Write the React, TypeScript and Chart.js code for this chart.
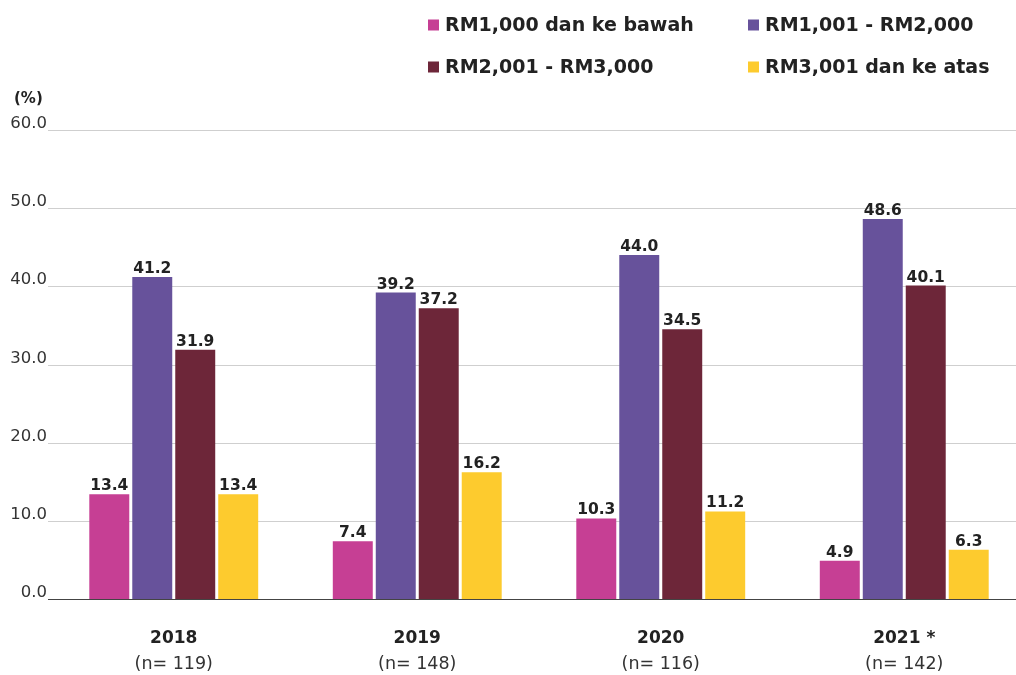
import React, { useEffect, useRef } from "react";
import { Chart, registerables } from "chart.js";

Chart.register(...registerables);

const categories = ["2018", "2019", "2020", "2021 *"];
const sampleSizes = ["(n= 119)", "(n= 148)", "(n= 116)", "(n= 142)"];
const seriesNames = ["RM1,000 dan ke bawah", "RM1,001 - RM2,000", "RM2,001 - RM3,000", "RM3,001 dan ke atas"];
const below1000 = [13.4, 7.4, 10.3, 4.9];
const from1001to2000 = [41.2, 39.2, 44.0, 48.6];
const from2001to3000 = [31.9, 37.2, 34.5, 40.1];
const above3001 = [13.4, 16.2, 11.2, 6.3];
const yTicks = [0, 10, 20, 30, 40, 50, 60];
const colors = ["#C63F94", "#67529B", "#6D2639", "#FDCB2E"];

const FONT = "'DejaVu Sans', sans-serif";
const TEXT = "#222222";

const customDraw = {
  id: "customDraw",
  beforeDatasetsDraw(chart: any) {
    const ctx = chart.ctx;
    const y = chart.scales.y;
    const area = chart.chartArea;
    ctx.save();
    yTicks.forEach((v) => {
      const py = Math.round(y.getPixelForValue(v)) + 0.5;
      ctx.strokeStyle = v === 0 ? "#444444" : "#cfcfcf";
      ctx.lineWidth = v === 0 ? 1.2 : 1;
      ctx.beginPath();
      ctx.moveTo(48, py);
      ctx.lineTo(area.right, py);
      ctx.stroke();
    });
    ctx.restore();
  },
  afterDatasetsDraw(chart: any) {
    const ctx = chart.ctx;
    const y = chart.scales.y;
    const x = chart.scales.x;
    ctx.save();
    // y tick labels
    ctx.fillStyle = "#333333";
    ctx.font = `400 16.5px ${FONT}`;
    ctx.textAlign = "right";
    ctx.textBaseline = "alphabetic";
    yTicks.forEach((v) => {
      const py = y.getPixelForValue(v);
      ctx.fillText(v.toFixed(1), 47, py - 2);
    });
    // unit
    ctx.font = `700 15px ${FONT}`;
    ctx.textAlign = "left";
    ctx.fillStyle = TEXT;
    ctx.fillText("(%)", 14, 103);

    // value labels
    ctx.font = `700 15.5px ${FONT}`;
    ctx.textAlign = "center";
    ctx.textBaseline = "alphabetic";
    ctx.fillStyle = TEXT;
    chart.data.datasets.forEach((ds: any, i: number) => {
      const meta = chart.getDatasetMeta(i);
      meta.data.forEach((el: any, j: number) => {
        ctx.fillText(Number(ds.data[j]).toFixed(1), el.x, el.y - 4);
      });
    });

    // category labels
    categories.forEach((c, i) => {
      const px = x.getPixelForValue(i);
      ctx.font = `700 17px ${FONT}`;
      ctx.fillStyle = TEXT;
      ctx.fillText(c, px, 643);
      ctx.font = `400 17.5px ${FONT}`;
      ctx.fillStyle = "#333333";
      ctx.fillText(sampleSizes[i], px, 669);
    });

    // legend
    const legendPos = [
      [428, 25],
      [748, 25],
      [428, 67],
      [748, 67],
    ];
    ctx.textAlign = "left";
    ctx.textBaseline = "middle";
    ctx.font = `700 19px ${FONT}`;
    chart.data.datasets.forEach((ds: any, i: number) => {
      const [lx, ly] = legendPos[i];
      ctx.fillStyle = ds.backgroundColor;
      ctx.fillRect(lx, ly - 5.5, 11, 11);
      ctx.fillStyle = TEXT;
      ctx.fillText(ds.label, lx + 17, ly + 1);
    });
    ctx.restore();
  },
};

export default function App() {
  const ref = useRef<HTMLCanvasElement | null>(null);
  useEffect(() => {
    if (!ref.current) return;
    const chart = new Chart(ref.current, {
      type: "bar",
      data: {
        labels: categories,
        datasets: [below1000, from1001to2000, from2001to3000, above3001].map((d, i) => ({
          label: seriesNames[i],
          data: d,
          backgroundColor: colors[i],
          borderWidth: 0,
          barPercentage: 0.93,
          categoryPercentage: 0.706,
        })),
      },
      options: {
        responsive: false,
        animation: false,
        layout: { padding: { left: 52, right: 4, top: 130, bottom: 76 } },
        plugins: { legend: { display: false }, tooltip: { enabled: false } },
        scales: {
          x: {
            ticks: { display: false },
            grid: { display: false, drawTicks: false },
            border: { display: false },
          },
          y: {
            min: 0,
            max: 60,
            ticks: { display: false, stepSize: 10 },
            grid: { display: false, drawTicks: false },
            border: { display: false },
          },
        },
      },
      plugins: [customDraw],
    });
    return () => chart.destroy();
  }, []);
  return (
    <div style={{ position: "fixed", left: 0, top: 0, width: 1030, height: 675, background: "#ffffff" }}>
      <canvas ref={ref} width={1030} height={675} style={{ display: "block" }} />
    </div>
  );
}
